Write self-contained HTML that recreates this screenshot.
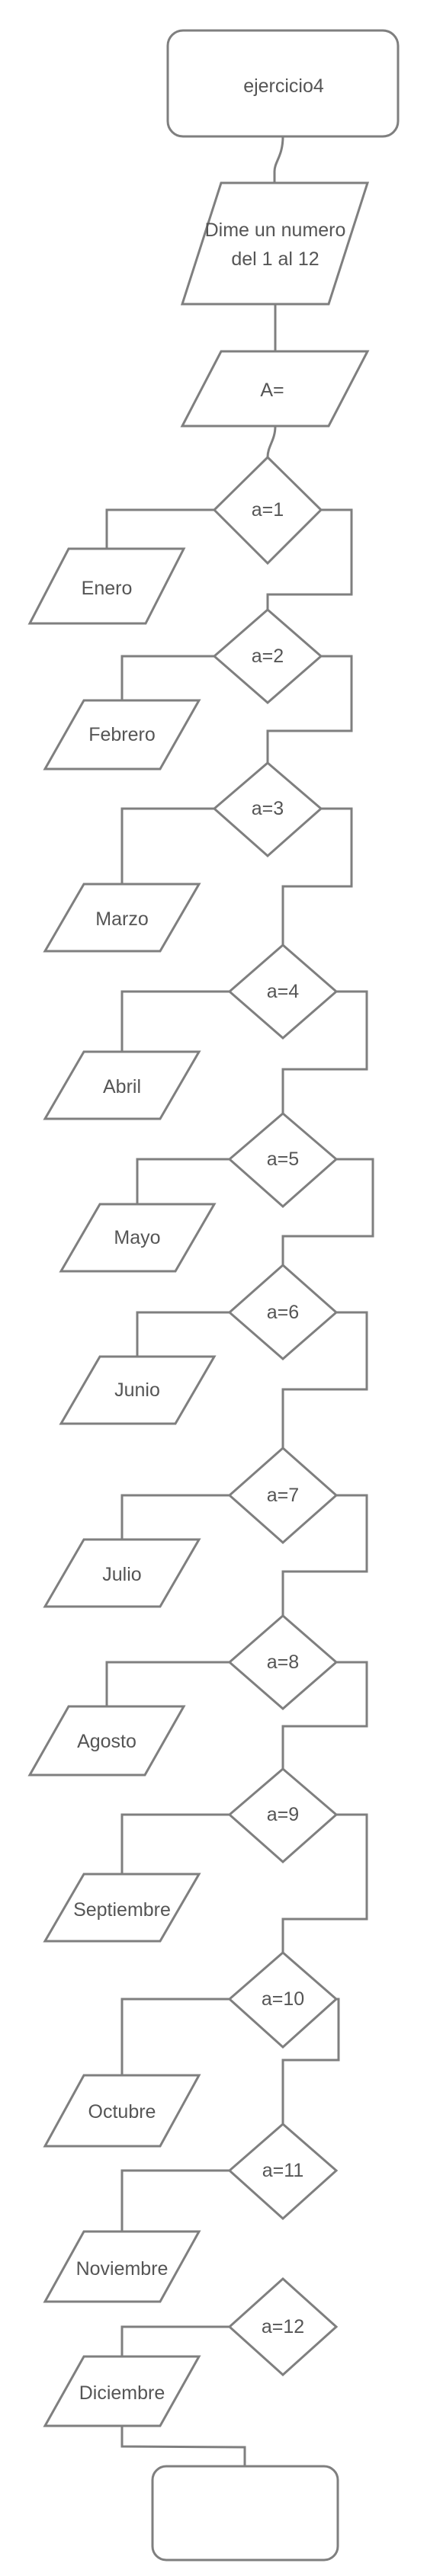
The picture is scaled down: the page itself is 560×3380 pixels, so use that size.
<!DOCTYPE html>
<html><head><meta charset="utf-8"><style>
html,body{margin:0;padding:0;background:#fff;width:560px;height:3380px;overflow:hidden}
svg{display:block}
text{font-family:"Liberation Sans",sans-serif;font-size:25px;fill:#555;text-anchor:middle;dominant-baseline:central}
</style></head><body>
<svg width="560" height="3380" viewBox="0 0 560 3380" xmlns="http://www.w3.org/2000/svg">
<g fill="none" stroke="#7f7f7f" stroke-width="3" stroke-linejoin="miter">
<!-- start -->
<rect x="220" y="40" width="302" height="139" rx="20" ry="20"/>
<path d="M371 179 C371 205 360 212 360 225 L360 240"/>
<polygon points="290,240 482,240 431,399 239,399"/>
<path d="M361 399 L361 461"/>
<polygon points="290,461 482,461 431,559 239,559"/>
<path d="M361 559 C361 578 351 585 351 600"/>
<!-- a=1 -->
<polygon points="351,600 421,669 351,739 281,669"/>
<path d="M281 669 L140 669 L140 720"/>
<polygon points="90,720 241,720 191,818 39,818"/>
<path d="M421 669 L461 669 L461 780 L351 780 L351 800"/>
<!-- a=2 -->
<polygon points="351,800 421,861 351,922 281,861"/>
<path d="M281 861 L160 861 L160 919"/>
<polygon points="110,919 261,919 210,1009 59,1009"/>
<path d="M421 861 L461 861 L461 959 L351 959 L351 1001"/>
<!-- a=3 -->
<polygon points="351,1001 421,1061 351,1123 281,1061"/>
<path d="M281 1061 L160 1061 L160 1160"/>
<polygon points="110,1160 261,1160 210,1248 59,1248"/>
<path d="M421 1061 L461 1061 L461 1163 L371 1163 L371 1240"/>
<!-- a=4 -->
<polygon points="371,1240 441,1301 371,1362 301,1301"/>
<path d="M301 1301 L160 1301 L160 1380"/>
<polygon points="110,1380 261,1380 210,1468 59,1468"/>
<path d="M441 1301 L481 1301 L481 1403 L371 1403 L371 1461"/>
<!-- a=5 -->
<polygon points="371,1461 441,1521 371,1583 301,1521"/>
<path d="M301 1521 L180 1521 L180 1580"/>
<polygon points="131,1580 281,1580 230,1668 80,1668"/>
<path d="M441 1521 L489 1521 L489 1622 L371 1622 L371 1660"/>
<!-- a=6 -->
<polygon points="371,1660 441,1722 371,1783 301,1722"/>
<path d="M301 1722 L180 1722 L180 1780"/>
<polygon points="131,1780 281,1780 230,1868 80,1868"/>
<path d="M441 1722 L481 1722 L481 1823 L371 1823 L371 1900"/>
<!-- a=7 -->
<polygon points="371,1900 441,1962 371,2024 301,1962"/>
<path d="M301 1962 L160 1962 L160 2020"/>
<polygon points="110,2020 261,2020 210,2108 59,2108"/>
<path d="M441 1962 L481 1962 L481 2062 L371 2062 L371 2120"/>
<!-- a=8 -->
<polygon points="371,2120 441,2181 371,2242 301,2181"/>
<path d="M301 2181 L140 2181 L140 2239"/>
<polygon points="90,2239 241,2239 190,2329 39,2329"/>
<path d="M441 2181 L481 2181 L481 2265 L371 2265 L371 2321"/>
<!-- a=9 -->
<polygon points="371,2321 441,2381 371,2443 301,2381"/>
<path d="M301 2381 L160 2381 L160 2459"/>
<polygon points="110,2459 261,2459 210,2547 59,2547"/>
<path d="M441 2381 L481 2381 L481 2518 L371 2518 L371 2562"/>
<!-- a=10 -->
<polygon points="371,2562 441,2623 371,2686 301,2623"/>
<path d="M301 2623 L160 2623 L160 2723"/>
<polygon points="110,2723 261,2723 210,2816 59,2816"/>
<path d="M441 2623 L444 2623 L444 2703 L371 2703 L371 2787"/>
<!-- a=11 -->
<polygon points="371,2787 441,2848 371,2911 301,2848"/>
<path d="M301 2848 L160 2848 L160 2928"/>
<polygon points="110,2928 261,2928 210,3020 59,3020"/>
<!-- a=12 -->
<polygon points="371,2990 441,3053 371,3116 301,3053"/>
<path d="M301 3053 L160 3053 L160 3092"/>
<polygon points="110,3092 261,3092 210,3183 59,3183"/>
<path d="M160 3183 L160 3210 L321 3211 L321 3236"/>
<rect x="200" y="3236" width="243" height="123" rx="18" ry="18"/>
</g>
<text x="372" y="113">ejercicio4</text>
<text x="361" y="302">Dime un numero</text>
<text x="361" y="340">del 1 al 12</text>
<text x="357" y="512">A=</text>
<text x="351" y="669">a=1</text>
<text x="140" y="772">Enero</text>
<text x="351" y="861">a=2</text>
<text x="160" y="964">Febrero</text>
<text x="351" y="1061">a=3</text>
<text x="160" y="1206">Marzo</text>
<text x="371" y="1301">a=4</text>
<text x="160" y="1426">Abril</text>
<text x="371" y="1521">a=5</text>
<text x="180" y="1624">Mayo</text>
<text x="371" y="1722">a=6</text>
<text x="180" y="1824">Junio</text>
<text x="371" y="1962">a=7</text>
<text x="160" y="2066">Julio</text>
<text x="371" y="2181">a=8</text>
<text x="140" y="2285">Agosto</text>
<text x="371" y="2381">a=9</text>
<text x="160" y="2506">Septiembre</text>
<text x="371" y="2623">a=10</text>
<text x="160" y="2771">Octubre</text>
<text x="371" y="2848">a=11</text>
<text x="160" y="2977">Noviembre</text>
<text x="371" y="3053">a=12</text>
<text x="160" y="3140">Diciembre</text>
</svg>
</body></html>
